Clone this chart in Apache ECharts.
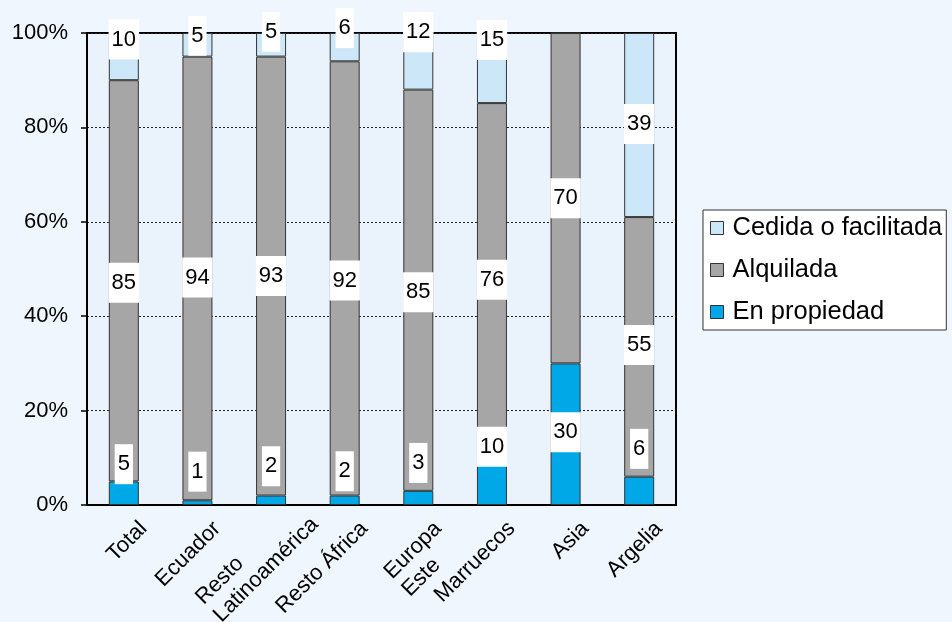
<!DOCTYPE html>
<html>
<head>
<meta charset="utf-8">
<script src="https://cdn.jsdelivr.net/npm/echarts@6/dist/echarts.min.js"></script>
<style>
html, body { margin: 0; padding: 0; background: #f0f6fd; }
#chart { width: 952px; height: 622px; }
</style>
</head>
<body>
<div id="chart"></div>
<script>
var categories = ['Total', 'Ecuador', 'Resto\nLatinoamérica', 'Resto África', 'Europa\nEste', 'Marruecos', 'Asia', 'Argelia'];
var enPropiedad = [5, 1, 2, 2, 3, 10, 30, 6];
var alquilada = [85, 94, 93, 92, 85, 76, 70, 55];
var cedida = [10, 5, 5, 6, 12, 15, 0, 39];

// vertical nudges of the value boxes (px), as placed in the original
var propiedadShift = [-29, -31, -34, -29, -35, -35, -2, -42];
var alquiladaShift = [2, -1, 0, 2, 2, -1, 0, -2];
var cedidaShift = [-17, -9, -13, -19, -29, -28, 0, -1];

var FONT = '"Liberation Sans", Arial, Helvetica, sans-serif';

var totals = categories.map(function (c, i) {
  return enPropiedad[i] + alquilada[i] + cedida[i];
});

function toShares(values, shifts) {
  return values.map(function (v, i) {
    return {
      value: v / totals[i] * 100,
      raw: v,
      label: { show: v > 0, offset: [0, shifts[i]] }
    };
  });
}

// two-line axis names hang from their first line, like the original
var axisData = categories.map(function (c) {
  if (c.indexOf('\n') < 0) return c;
  var pad = c.indexOf('Latino') >= 0 ? [3, -48, 0, 0] : [25, -28, 0, 0];
  return { value: c, textStyle: { padding: pad } };
});

var valueLabel = {
  show: true,
  position: 'inside',
  formatter: function (p) { return p.data.raw; },
  color: '#000',
  fontFamily: FONT,
  fontSize: 22,
  lineHeight: 22,
  backgroundColor: '#fff',
  padding: [9, 3]
};

function makeSeries(name, values, shifts, color) {
  return {
    name: name,
    type: 'bar',
    stack: 'total',
    barWidth: 30,
    data: toShares(values, shifts),
    itemStyle: { color: color, borderColor: '#333', borderWidth: 1 },
    label: valueLabel,
    emphasis: { disabled: true }
  };
}

var chart = echarts.init(document.getElementById('chart'));
chart.setOption({
  animation: false,
  backgroundColor: '#f0f6fd',
  textStyle: { fontFamily: FONT },
  grid: {
    left: 87, right: 276, top: 33, bottom: 117,
    show: true,
    backgroundColor: '#eaf3fc',
    borderColor: '#000',
    borderWidth: 2,
    outerBoundsMode: 'none'
  },
  legend: {
    data: ['Cedida o facilitada', 'Alquilada', 'En propiedad'],
    orient: 'vertical',
    left: 703,
    top: 210,
    icon: 'rect',
    itemWidth: 13,
    itemHeight: 13,
    itemGap: 16,
    padding: [5, 4, 5, 7],
    backgroundColor: '#fff',
    borderColor: '#333',
    borderWidth: 1,
    selectedMode: false,
    itemStyle: { borderColor: '#333', borderWidth: 1 },
    textStyle: { fontFamily: FONT, fontSize: 25.5, lineHeight: 25, color: '#000', padding: [0, 0, 0, 4] }
  },
  xAxis: {
    type: 'category',
    data: axisData,
    axisLine: { lineStyle: { color: '#000', width: 2 } },
    axisTick: { length: 7, lineStyle: { color: '#000', width: 1.5 } },
    axisLabel: {
      interval: 0,
      rotate: 45,
      margin: 40,
      padding: [0, -28, 0, 0],
      formatter: function (v) {
        return v.split('\n').map(function (s) { return '{c|' + s + '}'; }).join('\n');
      },
      rich: {
        c: { align: 'left', fontFamily: FONT, fontSize: 22, lineHeight: 25, color: '#000' }
      }
    }
  },
  yAxis: {
    type: 'value',
    min: 0,
    max: 100,
    interval: 20,
    axisLine: { show: true, lineStyle: { color: '#000', width: 2 } },
    axisTick: { show: true, length: 6, lineStyle: { color: '#000', width: 1.5 } },
    axisLabel: {
      formatter: '{value}%',
      margin: 19,
      fontFamily: FONT,
      fontSize: 22,
      color: '#000'
    },
    splitLine: { lineStyle: { color: '#222', width: 1, type: [2, 2] } }
  },
  series: [
    makeSeries('En propiedad', enPropiedad, propiedadShift, '#00a8e8'),
    makeSeries('Alquilada', alquilada, alquiladaShift, '#a6a6a6'),
    makeSeries('Cedida o facilitada', cedida, cedidaShift, '#cce7f8')
  ]
});
</script>
</body>
</html>
